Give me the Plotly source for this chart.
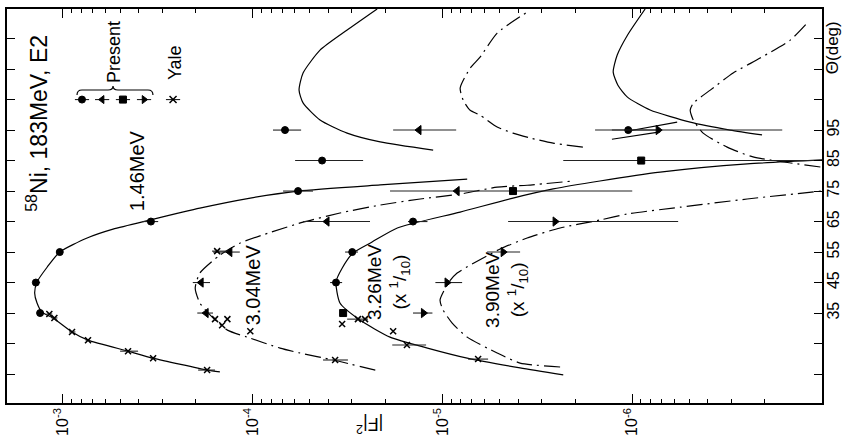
import plotly.graph_objects as go

# ---------------- theory curves: scattering angle (deg) and |F|^2 ----------------
# 1.46 MeV, first and second maximum (solid)
c146a_theta = [15.7, 16.3, 20.2, 22.5, 26.1, 28.8, 33.4, 35.3, 38.3, 41.6, 45.2, 50.1, 55.0,
               59.6, 62.5, 65.5, 69.4, 72.7, 75.0, 77.0, 78.9]
c146a_F = [1.49e-4, 1.74e-4, 3.35e-4, 4.54e-4, 7.38e-4, 8.96e-4, 1.13e-3, 1.29e-3, 1.37e-3,
           1.41e-3, 1.37e-3, 1.21e-3, 1.04e-3, 7.46e-4, 5.45e-4, 3.48e-4, 1.90e-4, 1.03e-4,
           5.77e-5, 2.13e-5, 7.41e-6]
c146b_theta = [88.4, 91.1, 94.0, 98.3, 103.9, 108.1, 113.7, 121.2, 127.8, 134.7]
c146b_F = [1.12e-5, 2.13e-5, 3.18e-5, 4.42e-5, 5.43e-5, 5.70e-5, 5.43e-5, 4.42e-5, 3.18e-5, 2.21e-5]

# 3.04 MeV (dash-dot)
c304a_theta = [16.3, 19.6, 21.9, 23.5, 27.1, 29.4, 33.4, 38.3, 43.2, 48.1, 54.0, 57.9, 61.2,
               64.8, 67.8, 70.4, 72.4, 74.0, 76.3, 76.9, 78.3]
c304a_F = [2.26e-5, 3.77e-5, 5.64e-5, 7.18e-5, 1.07e-4, 1.36e-4, 1.62e-4, 1.90e-4, 2.01e-4,
           1.90e-4, 1.49e-4, 1.17e-4, 8.30e-5, 5.43e-5, 3.47e-5, 2.13e-5, 1.31e-5, 8.07e-6,
           5.15e-6, 3.58e-6, 2.05e-6]
c304b_theta = [89.4, 90.7, 92.4, 94.0, 96.0, 99.9, 101.5, 104.8, 108.8, 115.3, 118.9, 126.8, 134.3]
c304b_F = [1.82e-6, 2.61e-6, 3.45e-6, 4.25e-6, 5.15e-6, 6.34e-6, 7.15e-6, 7.78e-6, 8.07e-6,
           7.15e-6, 6.34e-6, 5.15e-6, 3.45e-6]

# 3.26 MeV (x 1/10, solid)
c326a_theta = [14.7, 17.0, 20.2, 23.5, 27.1, 32.7, 38.3, 45.2, 49.7, 54.7, 58.3, 62.9, 68.1,
               72.7, 75.7, 78.3, 81.2, 83.9, 85.2]
c326a_F = [2.31e-6, 3.90e-6, 7.41e-6, 1.20e-5, 1.89e-5, 2.72e-5, 3.47e-5, 3.64e-5, 3.38e-5,
           2.96e-5, 2.35e-5, 1.73e-5, 8.07e-6, 4.25e-6, 2.61e-6, 1.48e-6, 7.13e-7, 2.48e-7, 9.98e-8]
c326b_theta = [93.4, 95.0, 97.6, 101.6, 105.8, 109.7, 114.0, 119.6, 126.1, 134.7]
c326b_F = [2.07e-7, 3.05e-7, 4.95e-7, 8.05e-7, 1.06e-6, 1.19e-6, 1.26e-6, 1.20e-6, 1.06e-6, 8.55e-7]

# 3.90 MeV (x 1/10, dash-dot)
c390a_theta = [17.3, 18.6, 21.9, 27.1, 31.7, 36.0, 39.3, 45.2, 48.1, 56.0, 59.6, 62.9, 65.5,
               67.5, 69.7, 72.4, 75.0]
c390a_F = [2.40e-6, 3.90e-6, 5.15e-6, 7.41e-6, 8.89e-6, 9.93e-6, 1.03e-5, 9.23e-6, 8.37e-6,
           4.97e-6, 3.58e-6, 2.40e-6, 1.48e-6, 1.06e-6, 5.58e-7, 2.48e-7, 1.00e-7]
c390b_theta = [82.9, 86.2, 89.4, 94.0, 98.3, 101.5, 103.8, 108.1, 113.7, 118.6, 124.5, 129.8]
c390b_F = [1.02e-7, 2.31e-7, 3.16e-7, 4.23e-7, 4.77e-7, 4.95e-7, 4.77e-7, 3.88e-7, 2.94e-7,
           2.12e-7, 1.47e-7, 1.21e-7]

# short solid pieces near 95 deg
seg1_theta = [94.7, 97.6]
seg1_F = [1.05e-6, 5.80e-7]
seg2_theta = [92.0, 94.4]
seg2_F = [1.28e-6, 7.13e-7]

# ---------------- measured points: value, upper and lower |F|^2 of the bar ----------------
circ_theta = [35, 45, 55, 65, 75, 85, 95, 45, 55, 65, 95]
circ_F = [1.32e-3, 1.39e-3, 1.04e-3, 3.44e-4, 5.77e-5, 4.31e-5, 6.76e-5, 3.64e-5, 2.99e-5, 1.43e-5, 1.05e-6]
circ_hi = [1.36e-3, 1.44e-3, 1.04e-3, 3.79e-4, 6.92e-5, 5.98e-5, 7.82e-5, 3.91e-5, 3.26e-5, 1.52e-5, 1.57e-6]
circ_lo = [1.28e-3, 1.32e-3, 1.04e-3, 3.15e-4, 4.81e-5, 2.62e-5, 5.56e-5, 3.38e-5, 2.79e-5, 1.20e-5, 7.13e-7]

sq_theta = [35, 75, 85]
sq_F = [3.34e-5, 4.25e-6, 8.97e-7]
sq_hi = [3.34e-5, 7.41e-6, 2.31e-6]
sq_lo = [3.34e-5, 1.00e-6, 1.00e-7]

tl_theta = [95, 75, 65, 55, 45, 35]
tl_F = [1.33e-5, 8.37e-6, 4.06e-5, 1.32e-4, 1.87e-4, 1.76e-4]
tl_hi = [1.82e-5, 1.89e-5, 5.43e-5, 1.62e-4, 2.07e-4, 1.96e-4]
tl_lo = [8.47e-6, 7.41e-6, 2.41e-5, 1.17e-4, 1.68e-4, 1.62e-4]

tr_theta = [35, 45, 55, 65, 95]
tr_F = [1.26e-5, 9.46e-6, 4.79e-6, 2.55e-6, 7.30e-7]
tr_hi = [1.43e-5, 1.09e-5, 5.82e-6, 4.51e-6, 1.28e-6]
tr_lo = [1.13e-5, 7.88e-6, 3.90e-6, 5.73e-7, 1.62e-7]

yale_theta = [34.7, 33.4, 28.8, 26.1, 22.5, 20.2, 16.3,
              55.3, 33.0, 31.0, 29.0, 33.0, 19.6,
              33.0, 31.4, 29.0, 24.5, 33.0,
              19.9]
yale_F = [1.18e-3, 1.11e-3, 8.96e-4, 7.38e-4, 4.54e-4, 3.35e-4, 1.74e-4,
          1.54e-4, 1.58e-4, 1.45e-4, 1.03e-4, 1.36e-4, 3.68e-5,
          2.79e-5, 3.38e-5, 1.82e-5, 1.54e-5, 2.56e-5,
          6.49e-6]
yale_hi = [1.22e-3, 1.15e-3, 9.3e-4, 7.6e-4, 5.00e-4, 3.45e-4, 1.94e-4,
           1.64e-4, 1.58e-4, 1.45e-4, 1.03e-4, 1.36e-4, 4.26e-5,
           3.18e-5, 3.38e-5, 1.82e-5, 1.84e-5, 2.56e-5,
           7.33e-6]
yale_lo = [1.14e-3, 1.07e-3, 8.6e-4, 7.2e-4, 4.02e-4, 3.25e-4, 1.58e-4,
           1.36e-4, 1.58e-4, 1.45e-4, 1.03e-4, 1.36e-4, 3.15e-5,
           2.47e-5, 3.38e-5, 1.82e-5, 1.22e-5, 2.56e-5,
           5.75e-6]

# key row (Present: circle, left/square/right triangle; Yale: cross)
key_theta = 105
key_F = [7.94e-4, 6.22e-4, 4.83e-4, 3.74e-4, 2.63e-4]

# axis ticks
x_major = [1e-3, 1e-4, 1e-5, 1e-6]
x_major_text = ["10<sup>-3</sup>", "10<sup>-4</sup>", "10<sup>-5</sup>", "10<sup>-6</sup>"]
theta_labelled = [35, 45, 55, 65, 75, 85, 95]
theta_unlabelled = [15, 25, 105, 115, 125]

FONT = "Liberation Sans, Arial, sans-serif"
fig = go.Figure()

SOLID = "solid"
DASHDOT = "16px,5px,2px,5px"
curves = [
    (c146a_F, c146a_theta, SOLID), (c146b_F, c146b_theta, SOLID),
    (c304a_F, c304a_theta, DASHDOT), (c304b_F, c304b_theta, DASHDOT),
    (c326a_F, c326a_theta, SOLID), (c326b_F, c326b_theta, SOLID),
    (c390a_F, c390a_theta, DASHDOT), (c390b_F, c390b_theta, DASHDOT),
    (seg1_F, seg1_theta, SOLID), (seg2_F, seg2_theta, SOLID),
]
for xs, ys, dash in curves:
    fig.add_trace(go.Scatter(x=xs, y=ys, mode="lines", line=dict(color="black", width=1.2, dash=dash,
                                                                  shape="spline", smoothing=0.6),
                             showlegend=False, hoverinfo="skip"))


def add_points(F, th, hi, lo, symbol, size, lw=1):
    fig.add_trace(go.Scatter(
        x=F, y=th, mode="markers",
        marker=dict(symbol=symbol, size=size, color="black", line=dict(color="black", width=lw)),
        error_x=dict(type="data", symmetric=False,
                     array=[h - f for h, f in zip(hi, F)],
                     arrayminus=[f - l for f, l in zip(F, lo)],
                     color="#222", thickness=1.1, width=0),
        showlegend=False, hoverinfo="skip"))


add_points(circ_F, circ_theta, circ_hi, circ_lo, "circle", 7)
add_points(sq_F, sq_theta, sq_hi, sq_lo, "square", 7)
add_points(tl_F, tl_theta, tl_hi, tl_lo, "triangle-left", 8)
add_points(tr_F, tr_theta, tr_hi, tr_lo, "triangle-right", 8)
add_points(yale_F, yale_theta, yale_hi, yale_lo, "x-thin-open", 6, lw=1.5)

# key row with short bars
key_sym = ["circle", "triangle-left", "square", "triangle-right", "x-thin-open"]
for f, s in zip(key_F, key_sym):
    add_points([f], [key_theta], [f * 1.09], [f / 1.09], s, 7,
               lw=1.5 if s == "x-thin-open" else 1)

# minor ticks at 2..9 x 10^n
minor_vals = [m * 10.0 ** e for e in range(-7, -2) for m in range(2, 10)]
minor_vals = [v for v in minor_vals if 1e-7 < v < 1.97e-3]

fig.update_xaxes(type="log", range=[-2.705, -7.0], showline=True, linecolor="black", linewidth=1.5,
                 mirror="allticks", ticks="inside", ticklen=9, tickwidth=1.2, tickcolor="black",
                 tickvals=x_major, ticktext=x_major_text, tickangle=-90, ticklabelstandoff=-3,
                 tickfont=dict(family=FONT, size=16, color="black"),
                 showgrid=False, zeroline=False, automargin=False,
                 minor=dict(tickvals=minor_vals, ticks="inside", ticklen=4, tickwidth=1,
                            tickcolor="black", showgrid=False))
fig.update_yaxes(range=[5.5, 134.7], side="right", showline=True, linecolor="black", linewidth=1.5,
                 mirror="allticks", ticks="inside", ticklen=8, tickwidth=1.2, tickcolor="black",
                 tickvals=theta_labelled, ticktext=[str(t) for t in theta_labelled],
                 tickangle=-90, ticklabelstandoff=-4,
                 tickfont=dict(family=FONT, size=16, color="black"),
                 showgrid=False, zeroline=False, automargin=False,
                 minor=dict(tickvals=theta_unlabelled, ticks="inside", ticklen=8, tickwidth=1.2,
                            tickcolor="black", showgrid=False))


def label(text, x, y, size, angle=-90):
    fig.add_annotation(text=text, x=x, y=y, xref="paper", yref="paper", showarrow=False,
                       textangle=angle, font=dict(family=FONT, size=size, color="black"),
                       xanchor="center", yanchor="middle")


label("<sup>58</sup>Ni, 183MeV, E2", 0.0368, 0.711, 23)
label("1.46MeV", 0.1595, 0.591, 20)
label("Present", 0.1313, 0.891, 18)
label("Yale", 0.206, 0.865, 18)
label("3.04MeV", 0.302, 0.299, 20)
label("3.26MeV<br>(x <sup>1</sup>/<sub>10</sub>)", 0.4675, 0.307, 19)
label("3.90MeV<br>(x <sup>1</sup>/<sub>10</sub>)", 0.6135, 0.287, 19)
label("Θ(deg)", 1.0125, 0.901, 17)
label("|F|<sup>2</sup>", 0.445, -0.056, 18, angle=180)

# brace grouping the "Present" symbols
fig.add_shape(type="path", xref="paper", yref="paper",
              path="M 0.0859,0.7817 Q 0.0859,0.7944 0.0920,0.7944 L 0.1240,0.7944 "
                   "Q 0.1301,0.7944 0.1301,0.8046 Q 0.1301,0.7944 0.1362,0.7944 "
                   "L 0.1730,0.7944 Q 0.1791,0.7944 0.1791,0.7817",
              line=dict(color="black", width=1.2))

fig.update_layout(width=843, height=436, margin=dict(l=7, r=21, t=9, b=33),
                  paper_bgcolor="white", plot_bgcolor="white", showlegend=False)

fig.write_html("out.html")
